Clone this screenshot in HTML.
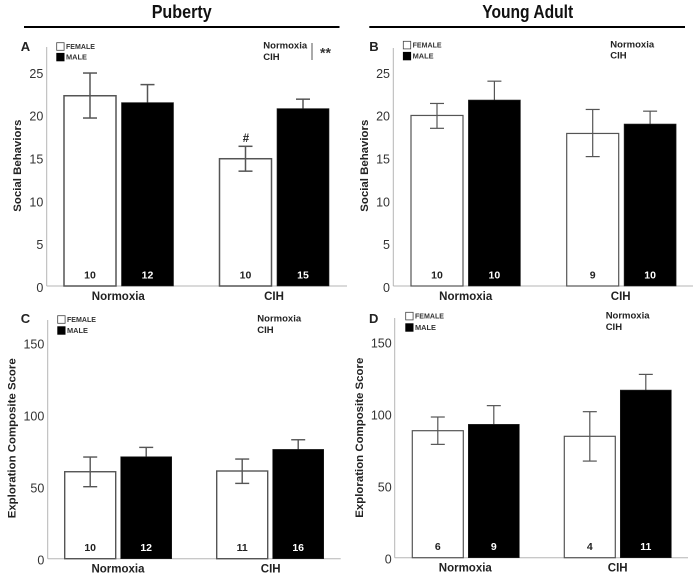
<!DOCTYPE html>
<html>
<head>
<meta charset="utf-8">
<style>
html,body{margin:0;padding:0;background:#fff;}
svg{display:block;filter:blur(0.35px);}
text{font-family:"Liberation Sans",sans-serif;}
</style>
</head>
<body>
<svg id="figure" width="700" height="578" viewBox="0 0 700 578" xmlns="http://www.w3.org/2000/svg"></svg>
<script>
const categories = ['Normoxia', 'CIH'];
const seriesNames = ['FEMALE', 'MALE'];
const socialTicks = [0, 5, 10, 15, 20, 25];
const explorationTicks = [0, 50, 100, 150];

const valuesA = [[22.2, 14.85], [21.4, 20.7]];
const errHighA = [[24.85, 16.3], [23.5, 21.8]];
const errLowA = [[19.6, 13.4], [19.3, 19.6]];
const countsA = [[10, 10], [12, 15]];

const valuesB = [[19.9, 17.8], [21.7, 18.9]];
const errHighB = [[21.3, 20.6], [23.9, 20.4]];
const errLowB = [[18.4, 15.1], [19.5, 17.4]];
const countsB = [[10, 9], [10, 10]];

const valuesC = [[60.4, 60.9], [70.8, 75.9]];
const errHighC = [[70.6, 69.2], [77.3, 82.6]];
const errLowC = [[50, 52.3], [64.3, 69.2]];
const countsC = [[10, 11], [12, 16]];

const valuesD = [[88.2, 84.3], [92.6, 116.4]];
const errHighD = [[97.7, 101.4], [105.6, 127.3]];
const errLowD = [[78.7, 67.1], [79.6, 105.5]];
const countsD = [[6, 4], [9, 11]];

const panels = [
  {id:'a', letter:'A', values:valuesA, hi:errHighA, lo:errLowA, n:countsA, ticks:socialTicks, title:'Social Behaviors',
   axisX:46.7, axisTop:47, axisEnd:347, base:286, unit:8.57, x0:64, groupStep:155.5, seriesStep:57.5, barW:52, strokeW:1.5,
   tickRight:43.3, letterX:20.7, letterY:51, titleX:16.7, titleY:165.7, titleLen:92,
   legendX:56.7, legendY:[42.7,53.3], noteX:263.3, noteY:[48.7,60], catY:300, catX:[118.3,274]},
  {id:'b', letter:'B', values:valuesB, hi:errHighB, lo:errLowB, n:countsB, ticks:socialTicks, title:'Social Behaviors',
   axisX:393.3, axisTop:48, axisEnd:693, base:286, unit:8.57, x0:411, groupStep:155.7, seriesStep:57.4, barW:52, strokeW:1.2,
   tickRight:390, letterX:369.3, letterY:51, titleX:363.3, titleY:165.7, titleLen:92,
   legendX:403.3, legendY:[41.3,52.3], noteX:610.3, noteY:[47.5,58.5], catY:300, catX:[465.7,620.7]},
  {id:'c', letter:'C', values:valuesC, hi:errHighC, lo:errLowC, n:countsC, ticks:explorationTicks, title:'Exploration Composite Score',
   axisX:47.7, axisTop:320, axisEnd:340.7, base:558.7, unit:1.44, x0:64.7, groupStep:152, seriesStep:56, barW:51, strokeW:1.4,
   tickRight:44.3, letterX:20.7, letterY:323, titleX:11, titleY:438.3, titleLen:160,
   legendX:57.7, legendY:[315.7,326.7], noteX:257.3, noteY:[321.7,333], catY:572.3, catX:[118,270.7]},
  {id:'d', letter:'D', values:valuesD, hi:errHighD, lo:errLowD, n:countsD, ticks:explorationTicks, title:'Exploration Composite Score',
   axisX:394.7, axisTop:318, axisEnd:688, base:557.7, unit:1.44, x0:412.3, groupStep:152, seriesStep:56, barW:51, strokeW:1.2,
   tickRight:391.7, letterX:369, letterY:323, titleX:358.3, titleY:437.7, titleLen:160,
   legendX:405.7, legendY:[312.3,323.7], noteX:605.7, noteY:[318.7,330], catY:571.7, catX:[465.3,617.7]}
];

const NS = 'http://www.w3.org/2000/svg';
const root = document.getElementById('figure');

function make(parent, tag, props) {
  const el = document.createElementNS(NS, tag);
  for (const k in props) el.setAttribute(k, props[k]);
  parent.appendChild(el);
  return el;
}
function label(parent, str, x, y, size, weight, fill, anchor) {
  const el = make(parent, 'text', {x:x, y:y, 'font-size':size, 'font-weight':weight, fill:fill, 'text-anchor':anchor});
  el.textContent = str;
  return el;
}
function line(parent, x1, y1, x2, y2, stroke, width) {
  return make(parent, 'line', {x1:x1, y1:y1, x2:x2, y2:y2, stroke:stroke, 'stroke-width':width});
}

let el;
el = label(root, 'Puberty', 181.7, 18, 18, 'bold', '#111', 'middle');
el.setAttribute('textLength', 60);
el.setAttribute('lengthAdjust', 'spacingAndGlyphs');


el = label(root, 'Young Adult', 527.7, 18, 18, 'bold', '#111', 'middle');
el.setAttribute('textLength', 91);
el.setAttribute('lengthAdjust', 'spacingAndGlyphs');


el = line(root, 24, 27, 339.5, 27, '#000', 2);


el = line(root, 369.3, 27, 685, 27, '#000', 2);



panels.forEach(function (p) {
  const yScale = function (v) { return p.base - v * p.unit; };
  const xScale = function (group, series) { return p.x0 + group * p.groupStep + series * p.seriesStep; };

  const g = make(root, 'g', {});
  
  

  let t;
  t = label(g, p.letter, p.letterX, p.letterY, 13, 'bold', '#222', 'start');
  
  

  t = line(g, p.axisX, p.axisTop, p.axisX, p.base, '#b5b5b5', 1);
  
  
  t = line(g, p.axisX, p.base, p.axisEnd, p.base, '#b5b5b5', 1);
  
  

  p.ticks.forEach(function (v) {
    const tl = label(g, String(v), p.tickRight, yScale(v) + 6, 12.5, 'normal', '#333', 'end');
    
    
  });

  t = label(g, p.title, 0, 0, 11, 'bold', '#222', 'middle');
  t.setAttribute('transform', 'translate(' + (p.titleX + 4.5) + ' ' + p.titleY + ') rotate(-90)');
  t.setAttribute('textLength', p.titleLen);
  t.setAttribute('lengthAdjust', 'spacingAndGlyphs');
  
  

  categories.forEach(function (c, gi) {
    const cl = label(g, c, p.catX[gi], p.catY, 11.5, 'bold', '#222', 'middle');
    
    

    seriesNames.forEach(function (s, si) {
      const sName = s.toLowerCase() + '-' + c.toLowerCase() + '-' + p.id;
      const x = xScale(gi, si);
      const top = yScale(p.values[si][gi]);
      const cx = x + p.barW / 2;
      const drawErr = function () {
        const eg = make(g, 'g', {});
        
        
        const yh = yScale(p.hi[si][gi]);
        const yl = yScale(p.lo[si][gi]);
        line(eg, cx, yh, cx, yl, '#555', p.strokeW);
        line(eg, cx - 7, yh, cx + 7, yh, '#555', p.strokeW);
        line(eg, cx - 7, yl, cx + 7, yl, '#555', p.strokeW);
      };
      if (si === 1) drawErr();
      const bar = make(g, 'rect', {
        x: x, y: top, width: p.barW, height: p.base - top,
        fill: si === 0 ? '#fff' : '#000',
        stroke: si === 0 ? '#555' : '#222',
        'stroke-width': si === 0 ? p.strokeW : 0.6
      });
      
      
      if (si === 0) drawErr();
      const nl = label(g, String(p.n[si][gi]), cx, p.base - 7.5, 10.5, 'bold', si === 0 ? '#222' : '#fff', 'middle');
      
      
    });
  });

  seriesNames.forEach(function (s, si) {
    const box = make(g, 'rect', {
      x: p.legendX, y: p.legendY[si], width: 7.4, height: 7.6,
      fill: si === 0 ? '#fff' : '#000', stroke: si === 0 ? '#444' : '#000', 'stroke-width': 0.8
    });
    
    
    const lt = label(g, s, p.legendX + 9.3, p.legendY[si] + 6.3, 7, 'bold', '#333', 'start');
    lt.setAttribute('textLength', si === 0 ? 29 : 21);
    lt.setAttribute('lengthAdjust', 'spacingAndGlyphs');
    
    
  });

  categories.forEach(function (c, gi) {
    const nt = label(g, c, p.noteX, p.noteY[gi], 9.5, 'bold', '#222', 'start');
    
    
  });
});

el = line(root, 312, 43, 312, 60, '#555', 1);


el = label(root, '**', 320, 57.5, 14, 'bold', '#333', 'start');


el = label(root, '#', 246, 142, 11.5, 'bold', '#222', 'middle');


</script>
</body>
</html>
